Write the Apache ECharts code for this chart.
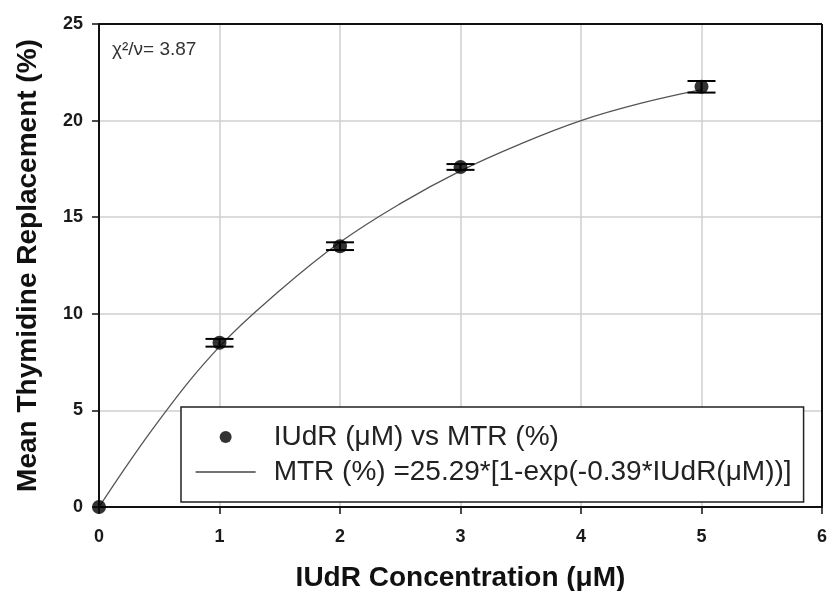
<!DOCTYPE html>
<html><head><meta charset="utf-8">
<script src="https://cdn.jsdelivr.net/npm/echarts@6/dist/echarts.min.js"></script>
<style>html,body{margin:0;padding:0;background:#fff}#c{width:827px;height:591px}</style>
</head><body><div id="c"></div>
<script>
const pointX = [0, 1, 2, 3, 5];
const pointY = [0, 8.5, 13.5, 17.6, 21.75];
const pointErr = [0, 0.2, 0.2, 0.15, 0.3];
const curveX = [0, 0.5, 1, 1.5, 2, 2.5, 3, 3.5, 4, 4.5, 5];
const curveY = [0, 4.5, 8.3, 11.2, 13.7, 15.7, 17.4, 18.8, 20.0, 20.9, 21.6];
const xTicks = [0, 1, 2, 3, 4, 5, 6];
const yTicks = [0, 5, 10, 15, 20, 25];
const seriesNames = ['IUdR (\u03bcM) vs MTR (%)', 'MTR (%) =25.29*[1-exp(-0.39*IUdR(\u03bcM))]'];

const chart = echarts.init(document.getElementById('c'));
const F = 'Liberation Sans, Arial, sans-serif';
chart.setOption({
  animation: false,
  grid: {left: 99, right: 5, top: 24, bottom: 84, show: false, containLabel: false, outerBoundsMode: 'none'},
  xAxis: {
    type: 'value', min: 0, max: 6, interval: 1,
    name: 'IUdR Concentration (\u03bcM)', nameLocation: 'middle', nameGap: 57,
    nameTextStyle: {fontFamily: F, fontWeight: 'bold', fontSize: 28, color: '#111'},
    axisLine: {show: true, lineStyle: {color: '#111', width: 2}},
    axisTick: {show: true, inside: false, length: 7, lineStyle: {color: '#111', width: 1.5}},
    axisLabel: {fontFamily: F, fontWeight: 'bold', fontSize: 18, color: '#1a1a1a', margin: 21,
      formatter: v => xTicks.includes(v) ? String(v) : ''},
    splitLine: {show: true, lineStyle: {color: '#cfcfcf', width: 1.5}}
  },
  yAxis: {
    type: 'value', min: 0, max: 25, interval: 5,
    name: 'Mean Thymidine Replacement (%)', nameLocation: 'middle', nameGap: 57,
    nameTextStyle: {fontFamily: F, fontWeight: 'bold', fontSize: 28, color: '#111'},
    axisLine: {show: true, lineStyle: {color: '#111', width: 2}},
    axisTick: {show: true, inside: false, length: 7, lineStyle: {color: '#111', width: 1.5}},
    axisLabel: {fontFamily: F, fontWeight: 'bold', fontSize: 18, color: '#1a1a1a', margin: 16,
      formatter: v => yTicks.includes(v) ? String(v) : ''},
    splitLine: {show: true, lineStyle: {color: '#cfcfcf', width: 1.5}}
  },
  legend: {
    orient: 'vertical', left: 181, top: 407,
    padding: [16, 12, 16, 14], itemGap: 7,
    backgroundColor: '#fff', borderColor: '#222', borderWidth: 1.5,
    itemWidth: 60, itemHeight: 12,
    textStyle: {fontFamily: F, fontSize: 28, color: '#222', padding: [0, 0, 0, 13]},
    data: [
      {name: seriesNames[0], icon: 'circle', itemStyle: {color: '#000'}},
      {name: seriesNames[1], itemStyle: {opacity: 0}, lineStyle: {color: '#444', width: 1.3}}
    ]
  },
  graphic: [
    {type: 'text', left: 112, top: 40, style: {text: '\u03c7\u00b2/\u03bd= 3.87', font: '19px ' + F, fill: '#333'}},
    {type: 'line', shape: {x1: 99, y1: 24, x2: 822, y2: 24}, style: {stroke: '#111', lineWidth: 2}, z: 10},
    {type: 'line', shape: {x1: 822, y1: 24, x2: 822, y2: 507}, style: {stroke: '#111', lineWidth: 2}, z: 10}
  ],
  series: [
    {
      name: seriesNames[1], type: 'line', smooth: 0.4, showSymbol: false, symbol: 'none',
      data: curveX.map((x, i) => [x, curveY[i]]),
      lineStyle: {color: '#555', width: 1.3}, itemStyle: {color: '#555'}, z: 3
    },
    {
      name: seriesNames[0], type: 'scatter', symbol: 'circle', symbolSize: 14,
      data: pointX.map((x, i) => [x, pointY[i]]),
      itemStyle: {color: '#000'}, z: 5
    },
    {
      type: 'custom', z: 4,
      data: pointX.map((x, i) => [x, pointY[i] - pointErr[i], pointY[i] + pointErr[i]]),
      renderItem: (params, api) => {
        if (api.value(2) - api.value(1) <= 0) return null;
        const lo = api.coord([api.value(0), api.value(1)]);
        const hi = api.coord([api.value(0), api.value(2)]);
        const w = 14;
        const st = {stroke: '#000', lineWidth: 2};
        return {type: 'group', children: [
          {type: 'line', shape: {x1: lo[0], y1: lo[1], x2: hi[0], y2: hi[1]}, style: st},
          {type: 'line', shape: {x1: lo[0] - w, y1: lo[1], x2: lo[0] + w, y2: lo[1]}, style: st},
          {type: 'line', shape: {x1: hi[0] - w, y1: hi[1], x2: hi[0] + w, y2: hi[1]}, style: st}
        ]};
      }
    }
  ]
});
</script></body></html>
